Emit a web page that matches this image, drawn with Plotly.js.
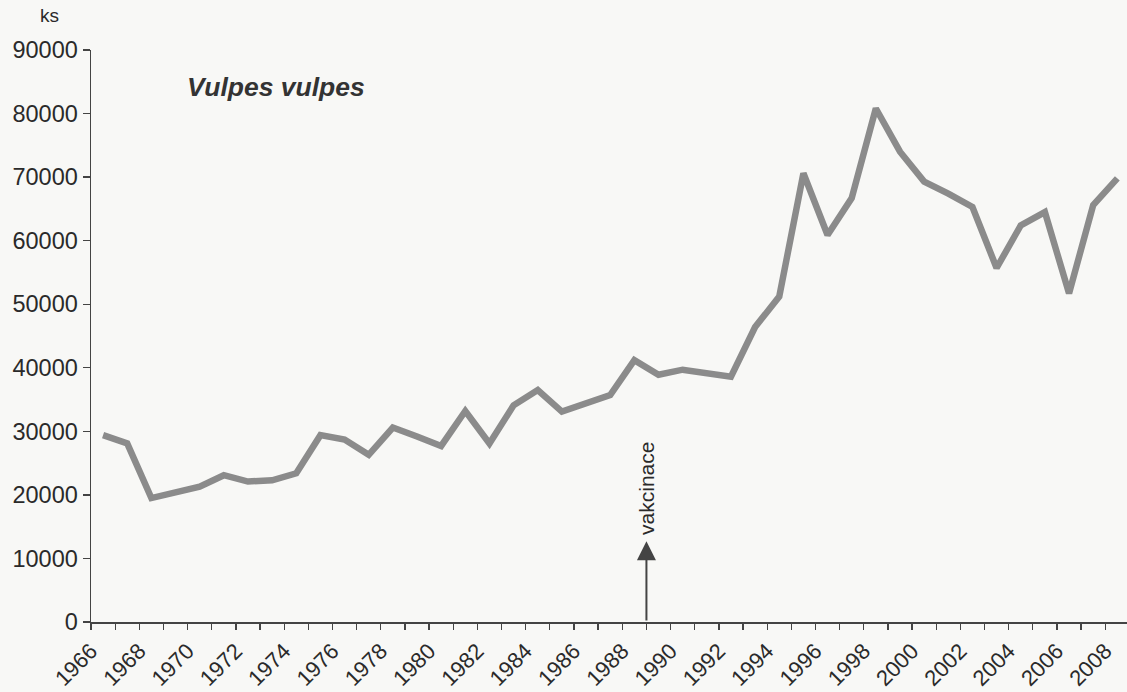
<!DOCTYPE html>
<html>
<head>
<meta charset="utf-8">
<script src="https://cdn.plot.ly/plotly-3.0.1.min.js"></script>
<style>
  html, body { margin: 0; padding: 0; background: #f8f8f6; }
  #chart { width: 1127px; height: 692px; }
</style>
</head>
<body>
<div id="chart"></div>
<script>
// Years of the record (one value per year)
const years = [1966,1967,1968,1969,1970,1971,1972,1973,1974,1975,1976,1977,1978,1979,1980,
  1981,1982,1983,1984,1985,1986,1987,1988,1989,1990,1991,1992,1993,1994,1995,1996,1997,
  1998,1999,2000,2001,2002,2003,2004,2005,2006,2007,2008];
// Vulpes vulpes, number of animals (ks)
const foxes = [29400,28100,19500,20300,21300,23100,22100,22300,23400,29400,28700,26300,30600,
  29200,27700,33200,28100,34100,36500,33100,34400,35700,41200,38900,39700,39200,38600,
  46400,51200,70600,60900,66700,80800,74000,69300,67400,65300,55700,62400,64500,51700,
  65600,69800];
// Tick labels on the year axis (every year has a tick, every second one a label)
const tickYears = years;
const tickLabels = tickYears.map(y => (y % 2 === 0 ? String(y) : ''));
// Vaccination start
const vaccinationYear = 1989;
const seriesName = 'Vulpes vulpes';
const unitLabel = 'ks';
const vaccinationLabel = 'vakcinace';

const FONT = 'Liberation Sans, Arial, Helvetica, sans-serif';
const INK = '#2a2a2a';

const trace = {
  x: years,
  y: foxes,
  type: 'scatter',
  mode: 'lines',
  line: { color: '#8b8b8b', width: 6.5 },
  hoverinfo: 'x+y',
  showlegend: false
};

const layout = {
  width: 1127,
  height: 692,
  margin: { l: 91, r: 0, t: 50, b: 70, pad: 0 },
  paper_bgcolor: '#f8f8f6',
  plot_bgcolor: '#f8f8f6',
  font: { family: FONT, color: INK, size: 23 },
  showlegend: false,
  xaxis: {
    range: [1965.5, 2008.4],
    tickmode: 'array',
    tickvals: tickYears.map(y => y - 0.5),
    ticktext: tickLabels,
    tickangle: -45,
    ticks: 'outside',
    ticklen: 6,
    tickwidth: 1.3,
    tickcolor: '#444',
    showline: true,
    linecolor: '#444',
    linewidth: 1.5,
    showgrid: false,
    zeroline: false,
    automargin: false,
    tickfont: { family: FONT, size: 22, color: INK }
  },
  yaxis: {
    range: [0, 90000],
    tickmode: 'linear',
    tick0: 0,
    dtick: 10000,
    tickformat: 'd',
    ticks: 'outside',
    ticklen: 7,
    tickwidth: 1.3,
    tickcolor: '#444',
    showline: true,
    linecolor: '#444',
    linewidth: 1.5,
    showgrid: false,
    zeroline: false,
    automargin: false,
    tickfont: { family: FONT, size: 23.5, color: INK }
  },
  annotations: [
    {
      text: '<b><i>' + seriesName + '</i></b>',
      xref: 'paper', yref: 'paper',
      x: 0.0905, y: 0.935,
      xanchor: 'left', yanchor: 'middle',
      showarrow: false,
      font: { family: FONT, size: 26.5, color: '#333' }
    },
    {
      text: unitLabel,
      xref: 'paper', yref: 'paper',
      x: -0.0396, y: 1.06,
      xanchor: 'center', yanchor: 'middle',
      showarrow: false,
      font: { family: FONT, size: 19, color: INK }
    },
    {
      text: '',
      x: vaccinationYear - 0.5, y: 12700,
      ax: vaccinationYear - 0.5, ay: 0,
      xref: 'x', yref: 'y', axref: 'x', ayref: 'y',
      showarrow: true,
      arrowhead: 2,
      arrowsize: 1.9,
      arrowwidth: 2,
      arrowcolor: '#444',
      standoff: 0,
      startstandoff: 0
    },
    {
      text: vaccinationLabel,
      x: vaccinationYear - 0.5, y: 21000,
      xref: 'x', yref: 'y',
      textangle: -90,
      xanchor: 'center', yanchor: 'middle',
      showarrow: false,
      font: { family: FONT, size: 21, color: INK }
    }
  ]
};

Plotly.newPlot('chart', [trace], layout, { displayModeBar: false, staticPlot: true });
</script>
</body>
</html>
